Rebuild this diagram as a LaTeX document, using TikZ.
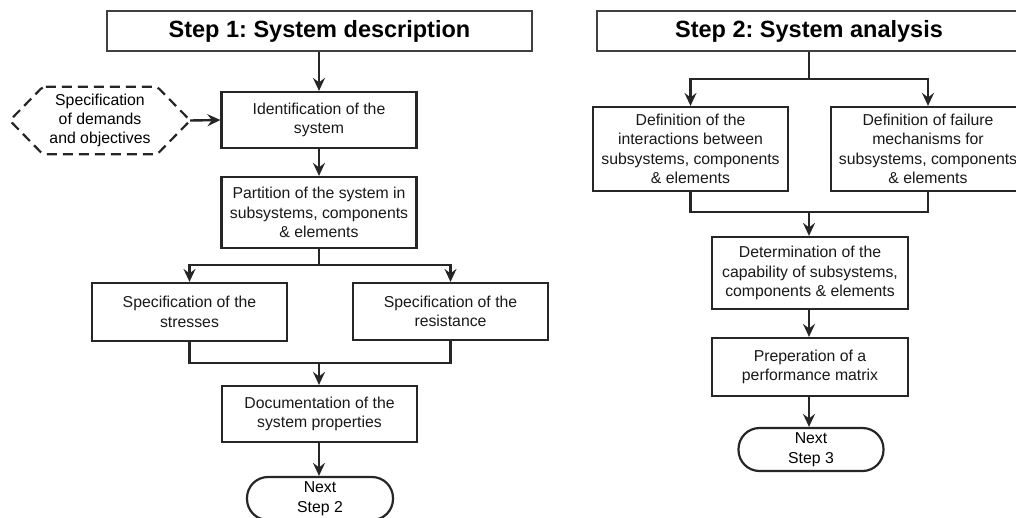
\documentclass[tikz,border=0pt]{standalone}
\usepackage{fontspec}
\setmainfont{Liberation Sans}
\usetikzlibrary{arrows.meta}
\begin{document}
\frenchspacing
\begin{tikzpicture}[x=1pt,y=-1pt,
  box/.style={draw=black!85, line width=2.2pt, align=center, inner sep=0pt,
    font=\fontsize{15.8}{19.5}\selectfont, minimum width=195pt, text=black!90},
  titlebox/.style={draw=black!75, line width=1.3pt, inner sep=0pt, minimum height=40pt,
    font=\fontsize{23.5}{27}\selectfont\bfseries},
  term/.style={draw=black!85, line width=2.2pt, rounded corners=21pt, align=center,
    inner sep=0pt, minimum height=43pt, minimum width=146pt,
    font=\fontsize{15.8}{19.5}\selectfont},
  conn/.style={draw=black!85, line width=2.4pt},
  arr/.style={conn, -{Stealth[length=13pt,width=12pt,inset=4.5pt]}},
]
\clip (0,0) rectangle (1016,517);
\useasboundingbox (0,0) rectangle (1016,517);
\fill[white] (0,0) rectangle (1016,517);

% ---------- Step 1 ----------
\node[titlebox, minimum width=425pt] (t1) at (319.5,31) {Step 1: System description};
\node[box, minimum height=56pt] (ident) at (319,120) {Identification of the\\system};
\node[align=center, inner sep=0pt, minimum width=180pt, minimum height=67pt,
  font=\fontsize{15.8}{19}\selectfont] (spec) at (100,120.5) {Specification\\of demands\\and objectives};
\draw[black!85, line width=2.2pt, dash pattern=on 10pt off 6pt, rounded corners=3pt]
  ([xshift=33pt]spec.north west) -- ([xshift=-33pt]spec.north east) -- (spec.east)
  -- ([xshift=-33pt]spec.south east) -- ([xshift=33pt]spec.south west) -- (spec.west) -- cycle;
\node[box, minimum height=71pt] (part) at (319,212.5) {Partition of the system in\\subsystems, components\\\& elements};
\node[box, minimum height=58pt] (stress) at (189.5,312) {Specification of the\\stresses};
\node[box, minimum height=57pt] (resist) at (450.5,311.5) {Specification of the\\resistance};
\node[box, minimum height=56pt] (doc) at (319.5,414) {Documentation of the\\system properties};
\node[term] (next1) at (320,498.5) {Next\\Step 2};

\coordinate (j1) at (319,265);
\coordinate (m1) at (319,363);
\draw[arr] (t1.south -| j1) -- (ident.north -| j1);
\draw[arr] (spec.east) -- (ident.west);
\draw[arr] (ident.south -| j1) -- (part.north -| j1);
\draw[conn] (part.south -| j1) -- (j1);
\draw[arr] (j1) -| (stress.north);
\draw[arr] (j1) -| (resist.north);
\draw[conn] (stress.south) |- (m1);
\draw[conn] (resist.south) |- (m1);
\draw[arr] (m1) -- (doc.north -| m1);
\draw[arr] (doc.south -| m1) -- (next1.north -| m1);

% ---------- Step 2 ----------
\node[titlebox, minimum width=424pt] (t2) at (809,31) {Step 2: System analysis};
\node[box, minimum height=84pt] (inter) at (690.5,149) {Definition of the\\interactions between\\subsystems, components\\\& elements};
\node[box, minimum height=84pt, minimum width=194pt] (fail) at (928,149) {Definition of failure\\mechanisms for\\subsystems, components\\\& elements};
\node[box, minimum height=72pt, minimum width=196pt] (det) at (810,273) {Determination of the\\capability of subsystems,\\components \& elements};
\node[box, minimum height=58pt, minimum width=196pt] (prep) at (810,367) {Preperation of a\\performance matrix};
\node[term, minimum width=145pt] (next2) at (811,449.5) {Next\\Step 3};

\coordinate (j2) at (809,79);
\coordinate (m2) at (809,212);
\draw[conn] (t2.south -| j2) -- (j2);
\draw[arr] (j2) -| (inter.north);
\draw[arr] (j2) -| (fail.north);
\draw[conn] (inter.south) |- (m2);
\draw[conn] (fail.south) |- (m2);
\draw[arr] (m2) -- (det.north -| m2);
\draw[arr] (det.south -| m2) -- (prep.north -| m2);
\draw[arr] (prep.south -| m2) -- (next2.north -| m2);
\end{tikzpicture}
\end{document}
